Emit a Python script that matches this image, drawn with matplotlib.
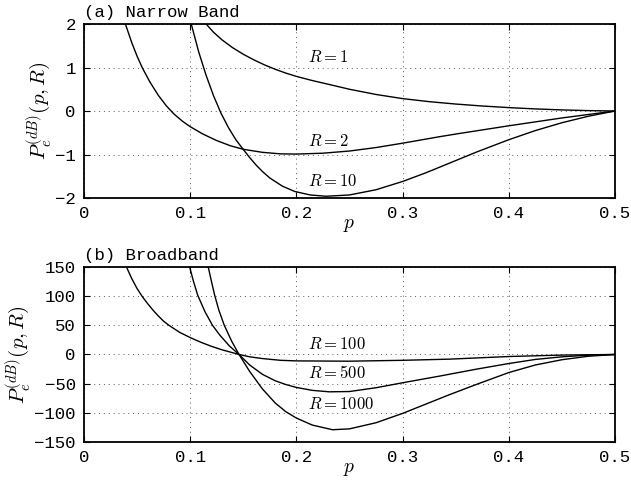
import matplotlib
matplotlib.use("Agg")
import matplotlib.pyplot as plt

plt.rcParams['mathtext.fontset'] = 'cm'
plt.rcParams['font.family'] = ['Liberation Mono', 'DejaVu Sans Mono']

# ---- Panel (a) Narrow Band ----
p_r1 = [0.115, 0.122, 0.13, 0.14, 0.15, 0.16, 0.17, 0.18, 0.19, 0.2, 0.215, 0.23, 0.25, 0.275, 0.3, 0.325, 0.35, 0.375, 0.4, 0.425, 0.45, 0.475, 0.5]
v_r1 = [2.0, 1.81, 1.635, 1.455, 1.305, 1.175, 1.06, 0.96, 0.872, 0.796, 0.70, 0.615, 0.50, 0.38, 0.285, 0.215, 0.16, 0.115, 0.078, 0.048, 0.025, 0.009, 0.0]

p_r2 = [0.039, 0.045, 0.05, 0.055, 0.062, 0.07, 0.0775, 0.085, 0.093, 0.1, 0.112, 0.125, 0.138, 0.15, 0.168, 0.185, 0.2, 0.225, 0.25, 0.275, 0.3, 0.335, 0.35, 0.4, 0.45, 0.5]
v_r2 = [2.0, 1.57, 1.26, 0.99, 0.67, 0.36, 0.12, -0.075, -0.24, -0.36, -0.53, -0.68, -0.80, -0.88, -0.95, -0.985, -0.99, -0.97, -0.92, -0.84, -0.74, -0.59, -0.53, -0.34, -0.16, 0.0]

p_r10 = [0.101, 0.108, 0.115, 0.122, 0.129, 0.136, 0.143, 0.1505, 0.156, 0.162, 0.168, 0.175, 0.187, 0.1985, 0.213, 0.228, 0.25, 0.275, 0.3, 0.322, 0.344, 0.37, 0.4, 0.425, 0.45, 0.475, 0.5]
v_r10 = [2.0, 1.36, 0.82, 0.35, -0.05, -0.38, -0.66, -0.90, -1.07, -1.24, -1.39, -1.54, -1.73, -1.85, -1.93, -1.96, -1.93, -1.81, -1.62, -1.42, -1.20, -0.94, -0.66, -0.45, -0.27, -0.12, 0.0]

# ---- Panel (b) Broadband ----
p_r100 = [0.04, 0.045, 0.05, 0.055, 0.06, 0.065, 0.07, 0.075, 0.08, 0.09, 0.1, 0.11, 0.12, 0.13, 0.138, 0.146, 0.156, 0.168, 0.185, 0.2, 0.25, 0.3, 0.344, 0.4, 0.45, 0.5]
v_r100 = [150, 130, 113, 99, 87, 76, 66, 57, 50, 38, 29, 21, 14, 8, 4, 0, -4, -7, -10, -11, -11.5, -10, -8, -3.5, -1, 0]

p_r500 = [0.0995, 0.103, 0.107, 0.114, 0.121, 0.128, 0.137, 0.146, 0.156, 0.168, 0.18, 0.19, 0.2, 0.215, 0.231, 0.25, 0.275, 0.3, 0.335, 0.37, 0.4, 0.425, 0.45, 0.475, 0.5]
v_r500 = [150, 126, 102, 73, 50, 33, 14.5, 0, -18, -34, -45, -51.5, -56.5, -61.5, -64, -63.5, -57, -48.5, -37, -25, -15.5, -8.5, -4, -1.2, 0]

p_r1000 = [0.117, 0.12, 0.123, 0.127, 0.132, 0.139, 0.146, 0.156, 0.168, 0.18, 0.19, 0.2, 0.215, 0.234, 0.25, 0.275, 0.3, 0.322, 0.344, 0.37, 0.4, 0.425, 0.45, 0.475, 0.5]
v_r1000 = [150, 125.5, 102, 76, 50.5, 23, 0, -29, -59, -83, -98, -109, -121, -129, -127.5, -117, -101, -85, -69, -51, -31, -18, -9, -3, 0]

xticks = [0, 0.1, 0.2, 0.3, 0.4, 0.5]
xticklabels = ['0', '0.1', '0.2', '0.3', '0.4', '0.5']
yticks_a = [-2, -1, 0, 1, 2]
yticks_b = [-150, -100, -50, 0, 50, 100, 150]

fig = plt.figure(figsize=(6.31, 4.84), dpi=100)
ax1 = fig.add_axes([0.1331, 0.5909, 0.8415, 0.3595])
ax2 = fig.add_axes([0.1331, 0.0868, 0.8415, 0.3616])

FS = 12.5

def style(ax, yticks, title):
    ax.set_xlim(0, 0.5)
    ax.set_xticks(xticks)
    ax.set_xticklabels(xticklabels)
    ax.set_yticks(yticks)
    ax.set_ylim(yticks[0], yticks[-1])
    ax.grid(True, linestyle=(0, (1, 4)), color='0.35', linewidth=0.7)
    ax.tick_params(direction='in', top=True, right=True, length=4, width=0.8,
                   labelsize=FS, pad=6)
    for s in ax.spines.values():
        s.set_linewidth(1.3)
    ax.set_xlabel('$p$', fontsize=14, labelpad=-3)
    ax.set_ylabel('$P_e^{(dB)}(p,R)$', fontsize=15, labelpad=1)
    ax.text(0.0, 1.025, title, transform=ax.transAxes, ha='left', va='bottom',
            fontsize=FS)

lw = 1.0
ax1.plot(p_r1, v_r1, color='k', lw=lw)
ax1.plot(p_r2, v_r2, color='k', lw=lw)
ax1.plot(p_r10, v_r10, color='k', lw=lw)
style(ax1, yticks_a, '(a) Narrow Band')
ax1.text(0.2107, 1.25, '$R = 1$', fontsize=12, ha='left', va='center')
ax1.text(0.2107, -0.685, '$R = 2$', fontsize=12, ha='left', va='center')
ax1.text(0.2107, -1.62, '$R = 10$', fontsize=12, ha='left', va='center')

ax2.plot(p_r100, v_r100, color='k', lw=lw)
ax2.plot(p_r500, v_r500, color='k', lw=lw)
ax2.plot(p_r1000, v_r1000, color='k', lw=lw)
style(ax2, yticks_b, '(b) Broadband')
ax2.text(0.2107, 18.8, '$R = 100$', fontsize=12, ha='left', va='center')
ax2.text(0.2107, -31.3, '$R = 500$', fontsize=12, ha='left', va='center')
ax2.text(0.2107, -85.6, '$R = 1000$', fontsize=12, ha='left', va='center')

fig.savefig('out.png', dpi=100)
